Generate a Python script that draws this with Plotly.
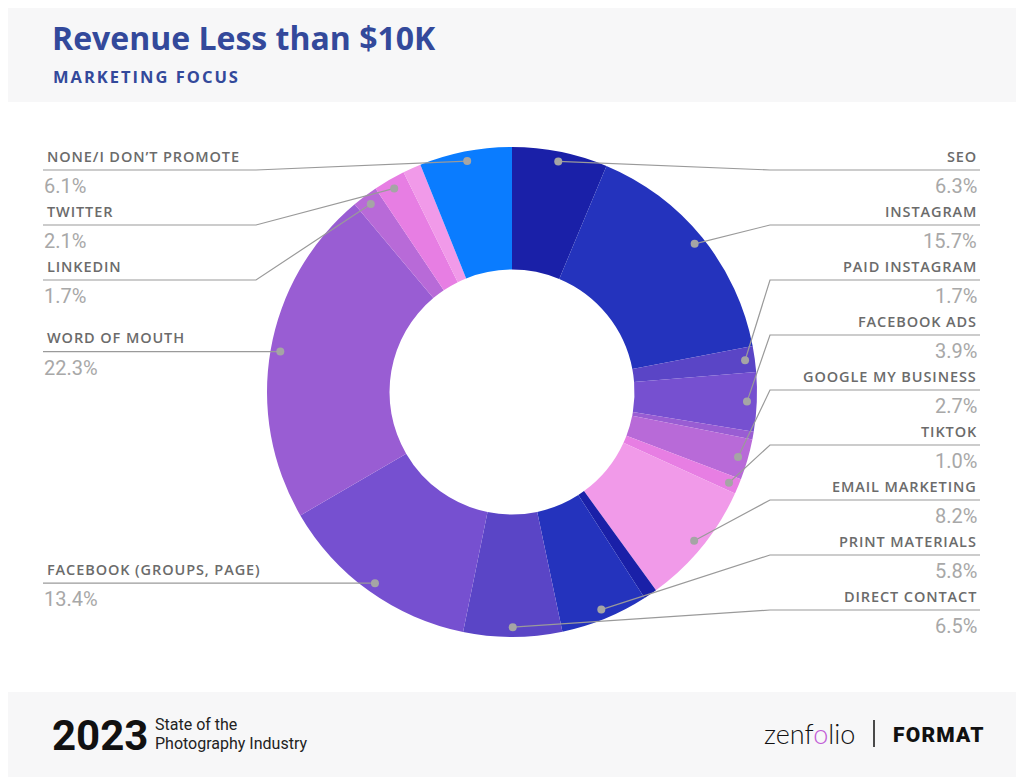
import math
import plotly.graph_objects as go

# ---------------- data ----------------
categories = ["SEO", "INSTAGRAM", "PAID INSTAGRAM", "FACEBOOK ADS", "OTHER 1",
              "GOOGLE MY BUSINESS", "TIKTOK", "EMAIL MARKETING", "OTHER 2",
              "PRINT MATERIALS", "DIRECT CONTACT", "FACEBOOK (GROUPS, PAGE)",
              "WORD OF MOUTH", "LINKEDIN", "TWITTER", "OTHER 3", "NONE/I DON’T PROMOTE"]
values = [6.3, 15.7, 1.7, 3.9, 0.5, 2.7, 1.0, 8.2, 0.9, 5.8, 6.5, 13.4, 22.3, 1.7, 2.1, 1.2, 6.1]
labeled = [True, True, True, True, False, True, True, True, False,
           True, True, True, True, True, True, False, True]
colors = ["#1a20a8", "#2433bd", "#5a45c6", "#7650d0", "#995dd3", "#b86ad8", "#e77ee3", "#f19ae9",
          "#1a20a8", "#2433bd", "#5a45c6", "#7650d0", "#995dd3", "#b86ad8", "#e77ee3", "#f19ae9",
          "#0a7cff"]

title = "Revenue Less than $10K"
subtitle = "MARKETING FOCUS"

# ---------------- geometry (window pixel coordinates) ----------------
W, H = 1024, 777          # browser window
OX, OY = 8, 8             # page body margin
FW, FH = W - OX, H - OY   # figure size
cx, cy, R = 512, 392, 245
hole = 0.5
dot_r = 0.96 * R

def spaced(text, px):
    return f"<span style='letter-spacing:{px}px'>{text}</span>"

fig = go.Figure()
fig.add_trace(go.Pie(
    labels=categories, values=values, sort=False, direction="clockwise", rotation=0,
    hole=hole, marker=dict(colors=colors, line=dict(width=0)),
    textinfo="none", hoverinfo="label+value", showlegend=False,
    domain=dict(x=[(cx - R - OX) / FW, (cx + R - OX) / FW],
                y=[1 - (cy + R - OY) / FH, 1 - (cy - R - OY) / FH]),
))
# invisible trace to instantiate the pixel-space axes
fig.add_trace(go.Scatter(x=[100], y=[100], mode="markers", marker=dict(opacity=0),
                         hoverinfo="skip", showlegend=False))

shapes = []
annotations = []
# header / footer bands
shapes.append(dict(type="rect", xref="x", yref="y", x0=0, x1=W + 20, y0=0, y1=102,
                   fillcolor="#f7f7f8", line=dict(width=0), layer="below"))
shapes.append(dict(type="rect", xref="x", yref="y", x0=0, x1=W + 20, y0=692, y1=H + 20,
                   fillcolor="#f7f7f8", line=dict(width=0), layer="below"))

total = sum(values)
cum = 0
right_items, left_items = [], []
for name, v, lab in zip(categories, values, labeled):
    mid = (cum + v / 2) / total * 360
    cum += v
    if not lab:
        continue
    a = math.radians(mid)
    dx, dy = cx + dot_r * math.sin(a), cy - dot_r * math.cos(a)
    item = (name, v, dx, dy)
    (right_items if mid < 180 else left_items).append(item)

line_col = "#9a9a9a"
dot_col = "#a5a5a5"
name_font = dict(family="Open Sans", size=14.5, color="#6b6b6b", weight=600)
pct_font = dict(family="Roboto", size=20, color="#a8a8a8")

def leader(points):
    path = "M " + " L ".join(f"{x:.1f},{y:.1f}" for x, y in points)
    shapes.append(dict(type="path", xref="x", yref="y", path=path,
                       line=dict(color=line_col, width=1.2), layer="above"))

def dot(x, y):
    r = 4
    shapes.append(dict(type="circle", xref="x", yref="y", x0=x - r, x1=x + r, y0=y - r, y1=y + r,
                       fillcolor=dot_col, line=dict(width=0), layer="above"))

# right side labels (evenly spaced)
for i, (name, v, dx, dy) in enumerate(right_items):
    ly = 170 + 55 * i
    leader([(dx, dy), (770, ly), (980, ly)])
    dot(dx, dy)
    annotations.append(dict(x=979, y=ly - 14, xref="x", yref="y", text=spaced(name, 0.9), showarrow=False,
                            xanchor="right", yanchor="middle", font=name_font))
    annotations.append(dict(x=979, y=ly + 16, xref="x", yref="y", text=f"{v:.1f}%", showarrow=False,
                            xanchor="right", yanchor="middle", font=pct_font))

# left side labels (top to bottom)
left_items = sorted(left_items, key=lambda t: t[3])
prev = 170 - 55
for name, v, dx, dy in left_items:
    ly = max(dy, prev + 55)
    prev = ly
    leader([(dx, dy), (256, ly), (43, ly)])
    dot(dx, dy)
    annotations.append(dict(x=45, y=ly - 14, xref="x", yref="y", text=spaced(name, 0.9), showarrow=False,
                            xanchor="left", yanchor="middle", font=name_font))
    annotations.append(dict(x=42, y=ly + 16, xref="x", yref="y", text=f"{v:.1f}%", showarrow=False,
                            xanchor="left", yanchor="middle", font=pct_font))

# header text
title_col = "#33499b"
annotations.append(dict(x=50, y=37, xref="x", yref="y", text=title, showarrow=False,
                        xanchor="left", yanchor="middle",
                        font=dict(family="Open Sans", size=32, color=title_col, weight="bold")))
annotations.append(dict(x=51, y=76, xref="x", yref="y", text=spaced(subtitle, 2), showarrow=False,
                        xanchor="left", yanchor="middle",
                        font=dict(family="Open Sans", size=16.5, color=title_col, weight="bold")))

# footer text
annotations.append(dict(x=50, y=735, xref="x", yref="y", text="2023", showarrow=False,
                        xanchor="left", yanchor="middle",
                        font=dict(family="Roboto", size=42, color="#111111", weight="bold")))
annotations.append(dict(x=153, y=724, xref="x", yref="y", text="State of the", showarrow=False,
                        xanchor="left", yanchor="middle",
                        font=dict(family="Roboto", size=16, color="#222222")))
annotations.append(dict(x=153, y=743, xref="x", yref="y", text="Photography Industry", showarrow=False,
                        xanchor="left", yanchor="middle",
                        font=dict(family="Roboto", size=16, color="#222222")))
annotations.append(dict(x=762, y=733, xref="x", yref="y",
                        text="zenf<span style='color:#c25cd6'>o</span>lio", showarrow=False,
                        xanchor="left", yanchor="middle",
                        font=dict(family="Lato", size=27, color="#111111", weight=300)))
shapes.append(dict(type="line", xref="x", yref="y", x0=874, x1=874, y0=720, y1=747,
                   line=dict(color="#111111", width=1.5), layer="above"))
annotations.append(dict(x=891, y=735, xref="x", yref="y", text=spaced("FORMAT", 1.2), showarrow=False,
                        xanchor="left", yanchor="middle",
                        font=dict(family="Roboto", size=21, color="#111111", weight=900)))

fig.update_layout(
    width=FW, height=FH, margin=dict(l=0, r=0, t=0, b=0),
    paper_bgcolor="white", plot_bgcolor="rgba(0,0,0,0)",
    xaxis=dict(range=[OX, W], visible=False, fixedrange=True),
    yaxis=dict(range=[H, OY], visible=False, fixedrange=True),
    shapes=shapes, annotations=annotations, showlegend=False,
)

fig.write_html("out.html")
